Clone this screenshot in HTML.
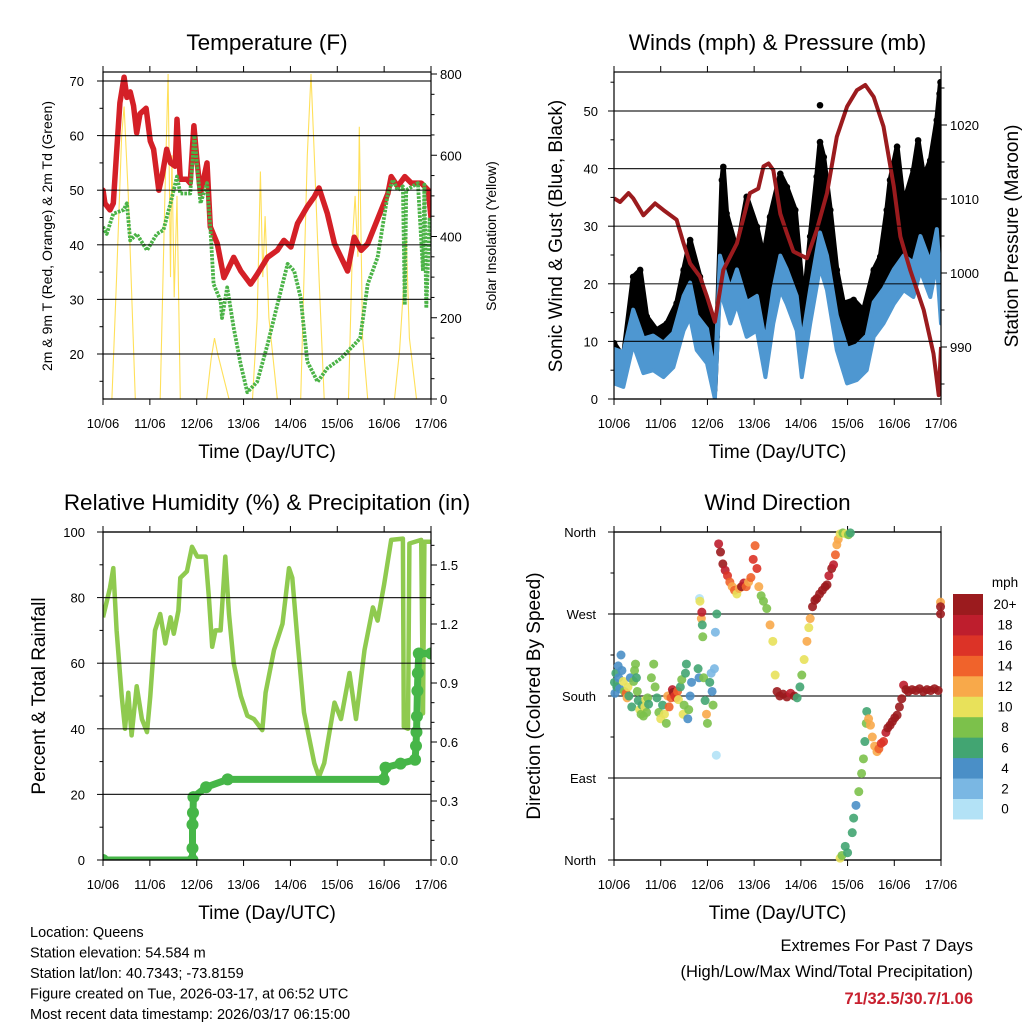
<!DOCTYPE html>
<html><head><meta charset="utf-8"><style>
html,body{margin:0;padding:0;background:#fff}
svg text{font-family:"Liberation Sans",Arial,sans-serif;fill:#000}
</style></head><body>
<svg id="c" width="1024" height="1024" viewBox="0 0 1024 1024" xmlns="http://www.w3.org/2000/svg">
<rect width="1024" height="1024" fill="#fff"/>
</svg>
<script>
// ---------- DATA ----------
const dayLabels=["10/06","11/06","12/06","13/06","14/06","15/06","16/06","17/06"];
// Temperature (F)
const tempT=[0,.04,.15,.22,.29,.36,.45,.51,.58,.65,.72,.79,.92,1.01,1.08,1.19,1.26,1.36,1.44,1.54,1.58,1.65,1.79,1.86,1.94,2.01,2.08,2.22,2.29,2.44,2.58,2.65,2.79,2.94,3.15,3.29,3.51,3.72,3.86,4.01,4.15,4.36,4.51,4.61,4.79,4.94,5.22,5.36,5.51,5.65,5.94,6.08,6.15,6.29,6.44,6.58,6.79,6.94,7.0];
const tempV=[50,47.6,46.4,47.6,56.9,66,70.7,67,68,65.5,60.5,64,65,59,57.5,50,52.5,57.5,55,54.4,63,52,52,51.3,61.8,55,49.4,55,43.3,40.2,34,35.2,37.7,35.2,32.8,34.6,37.7,39,40.8,39.6,43.9,47,48.8,50.4,45.7,40.2,35.2,41.4,39,40.2,46.4,49.4,52.5,50.7,52.5,51.3,51.3,50,45];
const dewT=[0,.08,.22,.44,.51,.58,.72,.94,1.15,1.29,1.44,1.58,1.65,1.86,1.95,2.08,2.22,2.29,2.36,2.51,2.54,2.65,2.79,2.94,3.08,3.29,3.51,3.72,3.94,4.08,4.22,4.36,4.58,4.79,5.08,5.36,5.49,5.65,5.86,6.08,6.19,6.29,6.4,6.44,6.47,6.72,6.83,6.86,6.9,6.97,7.0];
const dewV=[43.3,42,45.7,46.4,47.6,40.8,42,39,42,42.7,47.6,52.5,49.4,49.4,60,47.6,51.3,43.3,32.8,29.7,26.6,32.2,24.8,18,13,14.9,21.7,29,36.5,35.2,30.3,18.6,14.9,17.4,19.2,21.7,22.9,32.8,37.7,49.4,51.9,50,50.7,29,50,51.3,35.2,51,28.4,45,41.4];
const solarT=[0,.19,.29,.4,.45,.54,.69,1.22,1.32,1.39,1.44,1.47,1.52,1.58,1.65,2.21,2.31,2.38,2.45,2.69,3.19,3.29,3.36,3.41,3.46,3.54,3.72,4.22,4.36,4.44,4.51,4.61,4.72,5.24,5.33,5.38,5.44,5.47,5.54,5.65,6.22,6.33,6.4,6.47,6.54,6.69,7.0];
const solarV=[0,0,300,650,720,500,0,0,500,800,300,600,250,500,0,0,100,150,110,0,0,200,560,300,450,200,0,0,600,800,600,300,0,0,400,500,350,670,150,0,0,120,250,400,150,0,0];
// Winds & pressure
const presT=[0,.13,.31,.41,.63,.88,1.06,1.34,1.49,1.63,1.84,1.99,2.16,2.34,2.63,2.91,3.09,3.2,3.31,3.41,3.56,3.7,3.84,4.13,4.34,4.56,4.77,4.99,5.2,5.38,5.56,5.77,5.99,6.13,6.34,6.63,6.84,6.95,7.0];
const presV=[1010.1,1009.6,1010.8,1010.1,1007.8,1009.4,1008.5,1007.2,1004,1001.3,999.5,996.8,993.4,1000.4,1004,1010.8,1011.4,1014.4,1014.8,1013.9,1008,1005.4,1002.9,1002,1005.8,1010.8,1018.4,1022.5,1024.7,1025.4,1023.8,1019.8,1011.7,1004.9,1000.4,995,989.1,983.5,990];
const windT=[0,.2,.41,.63,.84,1.06,1.27,1.49,1.63,1.77,1.99,2.16,2.27,2.49,2.63,2.84,3.06,3.24,3.41,3.56,3.7,3.91,4.02,4.2,4.41,4.56,4.77,4.99,5.2,5.41,5.56,5.77,5.99,6.2,6.41,6.56,6.77,6.91,7.0];
const windV=[6.2,5.6,13,8,8.5,7.3,9,15.4,17.7,12,9.7,1.5,22.4,16.6,20,14.3,15.4,7.3,16.6,22.4,20,15.4,7.3,16.6,26.4,22.4,12,6.2,6.8,8.5,14.3,16.6,20,22.4,21.2,25.8,21.2,27,16.6];
const gustT=[0,.2,.41,.56,.7,.91,1.13,1.34,1.49,1.63,1.84,1.99,2.2,2.31,2.34,2.41,2.63,2.84,3.06,3.2,3.34,3.56,3.7,3.88,4.06,4.2,4.34,4.41,4.49,4.63,4.77,4.91,5.13,5.34,5.56,5.7,5.84,5.91,6.06,6.2,6.41,6.51,6.63,6.77,6.91,6.99];
const gustV=[9.7,7.3,21.2,22.4,14.3,12,13.1,16.6,22.4,27.6,21.2,16.6,10.8,38,40.3,32.2,25.8,35.1,29.9,24.7,31.6,39.1,36.8,32.8,16.6,28.2,38.6,44.6,42,32.8,22.4,16.6,17.2,15.4,22.4,24.7,32.8,38,43.8,33.9,39.7,44.9,38.6,41.4,48.4,55];
const gustOutT=[4.41,6.97,6.95,6.99];
const gustOutV=[51,53,47,50];
// RH & precip
const rhT=[0,.15,.22,.29,.4,.47,.54,.61,.72,.83,.94,1.01,1.11,1.22,1.33,1.44,1.51,1.61,1.65,1.79,1.9,2.01,2.19,2.26,2.33,2.4,2.51,2.61,2.69,2.79,2.94,3.08,3.22,3.4,3.47,3.65,3.83,3.97,4.04,4.15,4.29,4.51,4.61,4.72,4.94,5.08,5.26,5.4,5.58,5.76,5.86,6.0,6.15,6.4,6.42,6.51,6.54,6.79,6.83,6.86,7.0];
const rhV=[74,83,89,70,50,40,51,38,53,43,39,50,70,75,66,74,69,76,86,88,95.5,92.5,92.5,80,65,70,70,92.5,75,60,50,44,43,39.6,51,64,72,89,86,67,45,29.5,25.4,29.5,48,43,57,43,64,77,73,84,97.6,98,40.6,40,96.5,97.6,44.7,97,97];
const prT=[0,1.91,1.91,1.91,1.92,1.93,2.2,2.66,5.99,6.03,6.35,6.66,6.68,6.69,6.7,6.71,6.72,6.74,7.0];
const prV=[0,0,0.06,0.18,0.24,0.32,0.37,0.41,0.41,0.47,0.49,0.51,0.58,0.65,0.73,0.86,0.95,1.05,1.05];
// Wind direction (deg) colored by speed (mph)
const wdT=[0.01,0.02,0.04,0.06,0.09,0.1,0.12,0.15,0.17,0.2,0.22,0.26,0.28,0.3,0.32,0.35,0.38,0.42,0.44,0.46,0.48,0.5,0.52,0.55,0.58,0.6,0.63,0.66,0.68,0.7,0.72,0.74,0.8,0.85,0.88,0.92,0.96,1.0,1.04,1.08,1.12,1.15,1.18,1.22,1.25,1.27,1.3,1.33,1.36,1.38,1.42,1.45,1.48,1.5,1.53,1.55,1.58,1.6,1.63,1.66,1.8,1.82,1.83,1.84,1.87,1.88,1.89,1.9,1.92,1.95,1.98,2.0,2.05,2.08,2.1,2.12,2.15,2.17,2.19,2.2,2.24,2.28,2.33,2.38,2.43,2.48,2.53,2.58,2.63,2.68,2.73,2.78,2.83,2.88,2.93,2.98,3.02,3.06,3.1,3.15,3.2,3.27,3.34,3.4,3.45,3.49,3.55,3.62,3.7,3.78,3.86,3.92,3.98,4.02,4.07,4.13,4.17,4.2,4.25,4.3,4.34,4.4,4.46,4.52,4.56,4.6,4.66,4.7,4.74,4.77,4.8,4.84,4.9,4.96,5.02,5.06,4.84,4.88,4.95,5.0,5.1,5.13,5.18,5.24,5.3,5.34,5.37,5.4,5.41,5.45,5.49,5.53,5.58,5.63,5.67,5.72,5.77,5.82,5.86,5.91,5.96,6.01,6.06,6.11,6.16,6.2,6.25,6.3,6.38,6.46,6.54,6.62,6.7,6.78,6.86,6.94,6.99,6.99,6.99];
const wdD=[195,183,205,190,213,200,188,225,208,196,185,183,178,190,180,200,168,196,208,215,200,185,175,165,160,170,158,168,176,162,178,171,200,215,190,178,162,155,170,160,150,180,168,178,187,184,180,178,185,176,190,198,160,170,205,215,155,165,180,195,210,200,287,284,265,272,258,245,200,175,160,150,195,205,185,170,210,250,115,270,347,338,325,318,312,305,300,296,292,298,300,304,300,305,310,330,345,320,300,290,284,276,258,240,203,185,180,182,179,183,180,178,190,203,220,240,255,265,278,285,287,292,296,300,302,312,320,324,335,346,352,358,359,358,357,359,2,5,15,8,30,46,60,75,95,111,130,150,163,155,148,135,125,119,122,128,130,140,145,148,152,156,159,168,177,192,187,185,187,186,188,185,187,186,188,186,283,278,270];
const wdS=[6,5,6,7,4,4,5,4,4,10,8,14,13,11,6,5,6,8,8,9,7,8,7,10,8,6,9,11,10,9,9,7,8,8,8,7,8,10,7,10,8,12,14,14,18,20,17,16,14,10,6,8,10,8,7,6,5,8,4,4,6,4,1,10,12,18,6,8,8,6,12,8,7,3,5,8,2,2,1,6,18,20,20,18,16,14,12,14,10,12,20,18,14,12,14,16,14,16,12,8,8,8,12,10,10,20,20,20,20,18,20,6,7,8,10,12,10,12,20,20,20,20,20,20,20,18,20,18,14,12,12,10,8,10,8,7,10,8,7,6,6,7,5,8,8,9,7,8,7,12,12,13,12,12,14,16,16,18,20,20,20,20,20,20,20,18,20,20,20,20,20,20,20,20,20,20,12,20,20];
const cbColors=["#b3e2f6","#7ab7e3","#4a8fc7","#42a572","#7cc14b","#e8e15a","#f8a94a","#f0632b","#dc3327","#be1e2d","#9b1b1e"];
const cbLabels=["0","2","4","6","8","10","12","14","16","18","20+"];

// ---------- DRAW ----------
const svg=document.getElementById('c');
const NS="http://www.w3.org/2000/svg";
function mk(tag,attrs,parent){const e=document.createElementNS(NS,tag);for(const k in attrs)e.setAttribute(k,attrs[k]);(parent||svg).appendChild(e);return e;}
function txt(s,x,y,size,anchor,parent,extra){const e=mk('text',Object.assign({x:x,y:y,'font-size':size,'text-anchor':anchor||'middle'},extra||{}),parent);e.textContent=s;return e;}

function panel(name,x0,y0,x1,y1){
  const g=mk('g',{});
  
  
  const P={g:g,x0:x0,y0:y0,x1:x1,y1:y1,xs:t=>x0+t*(x1-x0)/7};
  return P;
}
function lin(d0,d1,p0,p1){return v=>p0+(v-d0)*(p1-p0)/(d1-d0);}
function frame(P,title){
  const r=mk('rect',{x:P.x0,y:P.y0,width:P.x1-P.x0,height:P.y1-P.y0,fill:'none',stroke:'#000','stroke-width':1.2},P.g);
  
  
  const xa=mk('g',{},P.g);
  
  
  for(let i=0;i<=7;i++){const x=P.xs(i);
    mk('line',{x1:x,x2:x,y1:P.y1,y2:P.y1+6,stroke:'#000','stroke-width':1},xa);
    mk('line',{x1:x,x2:x,y1:P.y0,y2:P.y0-6,stroke:'#000','stroke-width':1},xa);
    const t=txt(dayLabels[i],x,P.y1+29,13,'middle',xa);
    
    
  }
  const xt=txt('Time (Day/UTC)',(P.x0+P.x1)/2,P.y1+59,19,'middle',P.g);
  
  
  const tt=txt(title,(P.x0+P.x1)/2,P.y0-22,22.5,'middle',P.g);
  
  
}
function yAxis(P,ticks,labels,sc,side,grid,lx,minor){
  const g=mk('g',{},P.g);
  
  
  const xe=side==='L'?P.x0:P.x1, dir=side==='L'?-1:1;
  ticks.forEach((v,i)=>{const y=sc(v);
    if(grid)mk('line',{x1:P.x0,x2:P.x1,y1:y,y2:y,stroke:'#000','stroke-width':1.2,opacity:.85},g);
    mk('line',{x1:xe,x2:xe+dir*6,y1:y,y2:y,stroke:'#000','stroke-width':1},g);
    const t=txt(labels[i],lx,y+5,13,side==='L'?'end':'start',g);
    
    
  });
  if(minor)minor.forEach(v=>{const y=sc(v);if(y>P.y0&&y<P.y1)mk('line',{x1:xe,x2:xe+dir*3.5,y1:y,y2:y,stroke:'#000','stroke-width':1},g);});
}
function vtitle(s,x,y,size,P,name){const t=txt(s,x,y,size,'middle',P.g,{transform:`rotate(-90 ${x} ${y})`});}
function pts(T,V,xs,ys){return T.map((t,i)=>xs(t).toFixed(1)+','+ys(V[i]).toFixed(1)).join(' ');}
function clip(P,id){const d=mk('clipPath',{id:id});mk('rect',{x:P.x0,y:P.y0,width:P.x1-P.x0,height:P.y1-P.y0},d);}

// ---- Panel 1: Temperature ----
const P1=panel('temperature-panel',103,72,431,399);
const t1=lin(20,70,354,81), s1=lin(0,800,399,74);
clip(P1,'c1');
const g1=mk('g',{'clip-path':'url(#c1)'},P1.g);
let e;
e=mk('polyline',{points:pts(solarT,solarV,P1.xs,s1),fill:'none',stroke:'#ffe05a','stroke-width':1.1},g1);


e=mk('polyline',{points:pts(tempT,tempV,P1.xs,t1),fill:'none',stroke:'#d42027','stroke-width':5.5,'stroke-linejoin':'round','stroke-linecap':'round'},g1);


e=mk('polyline',{points:pts(dewT,dewV,P1.xs,t1),fill:'none',stroke:'#4bb347','stroke-width':3.8,'stroke-dasharray':'2.6 1.2','stroke-linejoin':'round'},g1);


frame(P1,'Temperature (F)');
yAxis(P1,[20,30,40,50,60,70],['20','30','40','50','60','70'],t1,'L',true,84,[15,25,35,45,55,65]);
yAxis(P1,[0,200,400,600,800],['0','200','400','600','800'],s1,'R',false,440,[50,100,150,250,300,350,450,500,550,650,700,750]);
vtitle('2m & 9m T (Red, Orange) & 2m Td (Green)',52,236,14,P1,'y-axis-left-title');
vtitle('Solar Insolation (Yellow)',496,236,14,P1,'y-axis-right-title');

// ---- Panel 2: Winds & Pressure ----
const P2=panel('winds-pressure-panel',614,72,941,399);
const w2=lin(0,50,399,111), p2=lin(990,1020,347,125);
clip(P2,'c2');
const g2=mk('g',{'clip-path':'url(#c2)'},P2.g);
const upper=gustT.map((t,i)=>P2.xs(t).toFixed(1)+','+w2(gustV[i]).toFixed(1)).join(' ');
const lower=windT.slice().reverse().map((t,i)=>P2.xs(t).toFixed(1)+','+w2(windV[windT.length-1-i]).toFixed(1)).join(' ');
e=mk('polygon',{points:upper+' '+lower,fill:'#000',stroke:'#000','stroke-width':5,'stroke-linejoin':'round'},g2);


gustT.forEach((t,i)=>{const c=mk('circle',{cx:P2.xs(t),cy:w2(gustV[i]),r:3.3,fill:'#000'},g2);
  
  });
gustOutT.forEach((t,i)=>{const c=mk('circle',{cx:P2.xs(t),cy:w2(gustOutV[i]),r:3.3,fill:'#000'},g2);
  
  });
const bu=windT.map((t,i)=>P2.xs(t).toFixed(1)+','+w2(windV[i]+2.5).toFixed(1)).join(' ');
const bl=windT.slice().reverse().map((t,i)=>P2.xs(t).toFixed(1)+','+w2(Math.max(0,windV[windT.length-1-i]-3.5)).toFixed(1)).join(' ');
e=mk('polygon',{points:bu+' '+bl,fill:'#4e97d1',stroke:'#4e97d1','stroke-width':4,'stroke-linejoin':'round'},g2);


e=mk('polyline',{points:pts(presT,presV,P2.xs,p2),fill:'none',stroke:'#9b1b1e','stroke-width':4,'stroke-linejoin':'round'},g2);


frame(P2,'Winds (mph) & Pressure (mb)');
yAxis(P2,[0,10,20,30,40,50],['0','10','20','30','40','50'],w2,'L',true,598,[5,15,25,35,45,55]);
yAxis(P2,[990,1000,1010,1020],['990','1000','1010','1020'],p2,'R',false,950,[985,995,1005,1015,1025]);
vtitle('Sonic Wind & Gust (Blue, Black)',562,236,19,P2,'y-axis-left-title');
vtitle('Station Pressure (Maroon)',1018,236,19,P2,'y-axis-right-title');

// ---- Panel 3: RH & Precip ----
const P3=panel('humidity-precip-panel',103,532,431,860);
const r3=lin(0,100,860,532), q3=lin(0,1.5,860,565);
clip(P3,'c3');
const g3=mk('g',{'clip-path':'url(#c3)'},P3.g);
e=mk('polyline',{points:pts(rhT,rhV,P3.xs,r3),fill:'none',stroke:'#8fca4f','stroke-width':4.5,'stroke-linejoin':'round'},g3);


e=mk('polyline',{points:pts(prT,prV,P3.xs,q3),fill:'none',stroke:'#46b648','stroke-width':7,'stroke-linejoin':'round'},g3);


prT.forEach((t,i)=>{const c=mk('circle',{cx:P3.xs(t),cy:q3(prV[i]),r:6,fill:'#46b648'},g3);
  
  });
frame(P3,'Relative Humidity (%) & Precipitation (in)');
yAxis(P3,[0,20,40,60,80,100],['0','20','40','60','80','100'],r3,'L',true,85,[10,30,50,70,90]);
yAxis(P3,[0,.3,.6,.9,1.2,1.5],['0.0','0.3','0.6','0.9','1.2','1.5'],q3,'R',false,440,[.1,.2,.4,.5,.7,.8,1.0,1.1,1.3,1.4,1.6]);
vtitle('Percent & Total Rainfall',45,696,19,P3,'y-axis-left-title');

// ---- Panel 4: Wind Direction ----
const P4=panel('wind-direction-panel',614,532,941,860);
const d4=lin(0,360,860,532);
frame(P4,'Wind Direction');
yAxis(P4,[0,90,180,270,360],['North','East','South','West','North'],d4,'L',true,596,[45,135,225,315]);
const g4=mk('g',{},P4.g);
function spdColor(s){const i=Math.min(10,Math.max(0,Math.floor(s/2)));return cbColors[i];}
wdT.forEach((t,i)=>{const c=mk('circle',{cx:P4.xs(t),cy:d4(wdD[i]),r:4.5,fill:spdColor(wdS[i]),opacity:.9},g4);
  
  });
vtitle('Direction (Colored By Speed)',540,696,19,P4,'y-axis-left-title');
const cb=mk('g',{});


const cbTop=594,cbH=20.45;
for(let i=0;i<11;i++){const y=cbTop+(10-i)*cbH;
  mk('rect',{x:953,y:y,width:30,height:cbH+0.5,fill:cbColors[i]},cb);
  const t=txt(cbLabels[i],1005,y+cbH/2+5,13.5,'middle',cb);
  
  }
e=txt('mph',1005,587,13.5,'middle',cb);



// ---- footer text ----
const info=["Location: Queens","Station elevation: 54.584 m","Station lat/lon: 40.7343; -73.8159","Figure created on Tue, 2026-03-17, at 06:52 UTC","Most recent data timestamp: 2026/03/17 06:15:00"];
info.forEach((s,i)=>{const t=txt(s,30,937+i*20.5,14.5,'start');
  
  });
e=txt('Extremes For Past 7 Days',973,951,16.5,'end');


e=txt('(High/Low/Max Wind/Total Precipitation)',973,977,16.5,'end');


e=txt('71/32.5/30.7/1.06',973,1004,16.5,'end',null,{'font-weight':'bold',style:'fill:#c8202f'});


</script>
</body></html>
